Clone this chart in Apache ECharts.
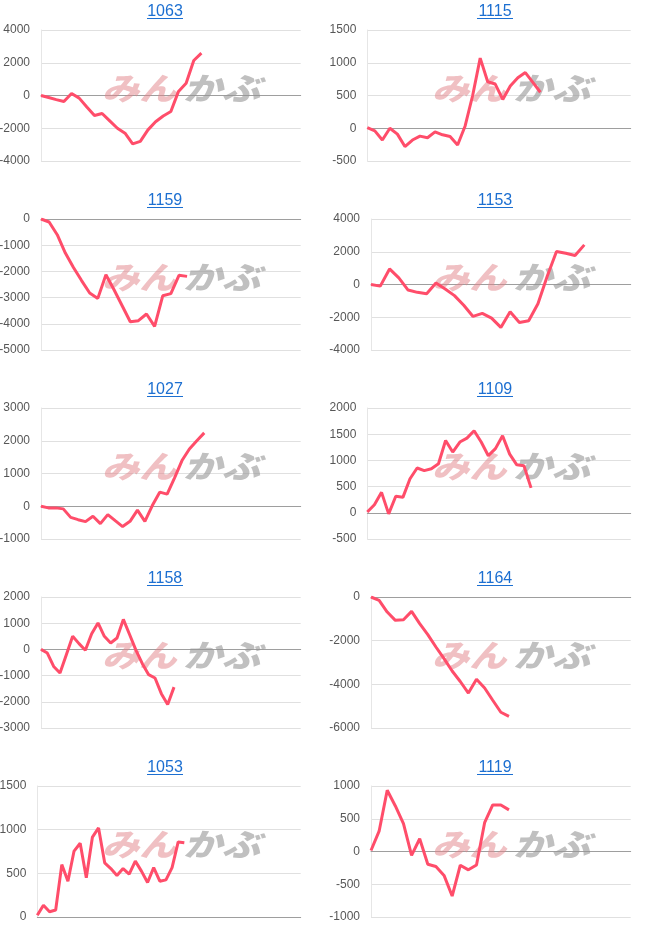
<!DOCTYPE html>
<html><head><meta charset="utf-8">
<script src="https://cdn.jsdelivr.net/npm/echarts@6/dist/echarts.min.js"></script>
<style>html,body{margin:0;padding:0;background:#fff}#c{width:660px;height:945px}</style>
</head><body><div id="c"></div>
<script>
const titles = ['1063','1115','1159','1153','1027','1109','1158','1164','1053','1119'];
const s1063 = [0, -120, -250, -370, 120, -160, -700, -1220, -1100, -1550, -2000, -2300, -2950, -2800, -2100, -1600, -1250, -980, 250, 750, 2140, 2590];
const s1115 = [10, -40, -180, 0, -90, -280, -180, -120, -145, -55, -100, -125, -255, 35, 500, 1070, 710, 675, 440, 645, 770, 850, 700, 550];
const s1159 = [0, -115, -600, -1300, -1850, -2350, -2825, -3030, -2125, -2700, -3310, -3920, -3880, -3625, -4100, -2930, -2850, -2150, -2190];
const s1153 = [0, -100, 950, 400, -340, -480, -560, 90, -280, -680, -1270, -1950, -1760, -2050, -2620, -1660, -2320, -2210, -1170, 500, 2020, 1910, 1770, 2420];
const s1027 = [0, -50, -50, -80, -340, -410, -470, -305, -530, -255, -440, -620, -460, -120, -460, 20, 430, 370, 865, 1395, 1750, 2000, 2240];
const s1109 = [15, 155, 390, -20, 315, 295, 650, 855, 805, 840, 935, 1380, 1160, 1350, 1425, 1565, 1350, 1090, 1225, 1470, 1120, 915, 900, 475];
const s1158 = [0, -140, -650, -900, -200, 500, 220, -30, 600, 1010, 500, 245, 435, 1145, 560, -35, -545, -965, -1090, -1690, -2100, -1440];
const s1164 = [0, -150, -690, -1070, -1040, -660, -1220, -1725, -2290, -2825, -3390, -3870, -4400, -3770, -4170, -4730, -5280, -5465];
const s1053 = [20, 135, 60, 80, 600, 410, 755, 845, 450, 915, 1020, 620, 555, 475, 555, 490, 640, 525, 395, 565, 410, 425, 565, 860, 850];
const s1119 = [15, 310, 935, 695, 425, -60, 195, -195, -230, -365, -680, -210, -280, -205, 440, 710, 710, 635];
const seriesValues = [s1063, s1115, s1159, s1153, s1027, s1109, s1158, s1164, s1053, s1119];
const categoryCounts = [35, 36, 33, 29, 36, 38, 42, 33, 44, 33];
const yMins  = [-4000, -500, -5000, -4000, -1000, -500, -3000, -6000, 0, -1000];
const yMaxs  = [4000, 1500, 0, 4000, 3000, 2000, 2000, 0, 1500, 1000];
const ySteps = [2000, 500, 1000, 2000, 1000, 500, 1000, 2000, 500, 500];

const PW = 330, PH = 189;
const lefts = [41, 37.3, 41, 41, 41, 37.3, 41, 41, 37.3, 41];
const grids = [], xAxes = [], yAxes = [], series = [], graphics = [];
const labelFont = 'Arial, "Liberation Sans", sans-serif';
titles.forEach((t, i) => {
  const col = i % 2, row = Math.floor(i / 2);
  const x0 = col * PW, y0 = row * PH;
  grids.push({ left: x0 + lefts[i], top: y0 + 30, width: 300.7 - lefts[i], height: 131,
               containLabel: false, outerBoundsMode: 'none' });
  const cats = [];
  for (let k = 0; k < categoryCounts[i]; k++) cats.push(String(k + 1));
  xAxes.push({
    type: 'category', gridIndex: i, data: cats, boundaryGap: false,
    axisLine: { show: true, onZero: true, lineStyle: { color: '#9e9e9e', width: 1 } },
    axisTick: { show: false }, axisLabel: { show: false }, splitLine: { show: false }
  });
  yAxes.push({
    type: 'value', gridIndex: i, min: yMins[i], max: yMaxs[i], interval: ySteps[i],
    axisLine: { show: true, lineStyle: { color: '#e6e6e6' } },
    axisTick: { show: false },
    axisLabel: { color: '#575757', fontSize: 12, fontFamily: labelFont, margin: 11,
                 formatter: v => String(v) },
    splitLine: { show: true, lineStyle: { color: '#e0e0e0', width: 1 } }
  });
  series.push({
    type: 'line', xAxisIndex: i, yAxisIndex: i, data: seriesValues[i],
    symbol: 'none', smooth: false, z: 5,
    lineStyle: { color: '#ff4d6a', width: 3 }, itemStyle: { color: '#ff4d6a' }
  });
  const cx = x0 + 165;
  graphics.push({
    type: 'text', x: cx, y: y0 + 4, z: 10,
    style: { text: t, fill: '#1c6fd1', font: '16px Arial, "Liberation Sans", sans-serif', align: 'center', verticalAlign: 'top' }
  });
  graphics.push({
    type: 'line', z: 10, shape: { x1: cx - 18, y1: y0 + 18.5, x2: cx + 18, y2: y0 + 18.5 },
    style: { stroke: '#1c6fd1', lineWidth: 1 }
  });
  graphics.push({
    type: 'text', x: x0 + 102, y: y0 + 88, scaleX: 1.2, z: 1,
    style: { text: 'みん', fill: 'rgba(225,130,135,0.5)', font: 'italic 900 31px "Noto Sans CJK JP", sans-serif', align: 'left', verticalAlign: 'middle' }
  });
  graphics.push({
    type: 'text', x: x0 + 183, y: y0 + 88, scaleX: 1.25, z: 1,
    style: { text: 'かぶ', fill: 'rgba(150,150,150,0.6)', font: 'italic 900 31px "Noto Sans CJK JP", sans-serif', align: 'left', verticalAlign: 'middle' }
  });
});

const chart = echarts.init(document.getElementById('c'), null, { renderer: 'canvas' });
chart.setOption({
  animation: false,
  backgroundColor: '#fff',
  grid: grids, xAxis: xAxes, yAxis: yAxes, series: series,
  graphic: graphics
});
</script></body></html>
